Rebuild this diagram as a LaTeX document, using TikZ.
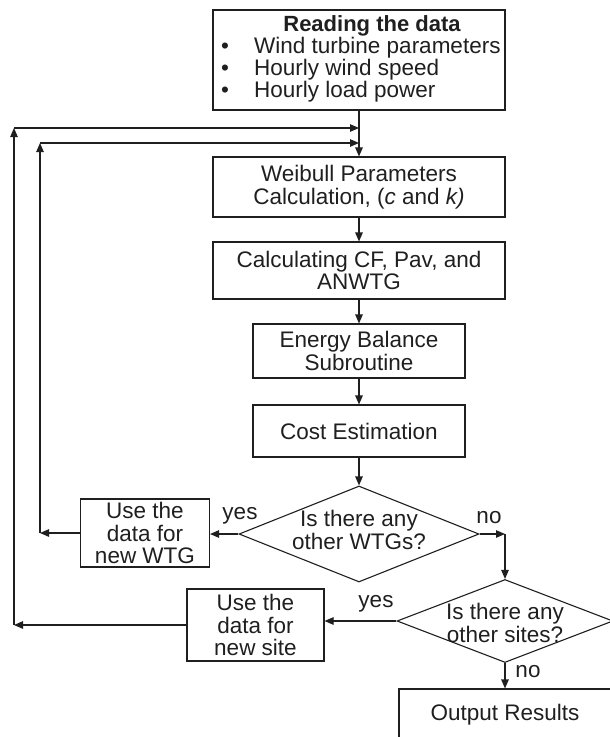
\documentclass[tikz,border=0pt]{standalone}
\usepackage{fontspec}
\setmainfont{Liberation Sans}
\usetikzlibrary{arrows.meta,shapes.geometric}

\begin{document}
\begin{tikzpicture}[x=1pt,y=-1pt,
  every node/.style={font=\fontsize{22.5}{22.5}\selectfont, text=black!88},
  box/.style={draw=black!88, line width=1.1pt, inner sep=0pt, align=center},
  dec/.style={draw=black!88, diamond, line width=1.1pt, inner sep=0pt},
  arr/.style={draw=black!88, line width=1.1pt, -{Triangle[length=9pt,width=7.5pt]}},
  lbl/.style={inner sep=0pt}]
\useasboundingbox (0,0) rectangle (610,737);

% input box with its title and bullet list
\node[box, minimum width=292pt, minimum height=100pt] (read) at (359,60) {};
\node[lbl, font=\fontsize{22}{22.5}\selectfont\bfseries] (title) at (372,26) {Reading the data};
\node[lbl, anchor=west] (item1) at (221,48) {\makebox[33pt][l]{\textbullet}Wind turbine parameters};
\node[lbl, anchor=west] (item2) at (221,70) {\makebox[33pt][l]{\textbullet}Hourly wind speed};
\node[lbl, anchor=west] (item3) at (221,92) {\makebox[33pt][l]{\textbullet}Hourly load power};

% main chain of process boxes
\node[box, minimum width=292pt, minimum height=60pt] (weib) at (359,187)
  {Weibull Parameters\\Calculation, (\textit{c} and \textit{k)}};
\node[box, minimum width=292pt, minimum height=57pt] (calc) at (359,270.5)
  {Calculating CF, Pav, and\\ANWTG};
\node[box, minimum width=212pt, minimum height=54pt] (energy) at (359,351)
  {Energy Balance\\Subroutine};
\node[box, minimum width=212pt, minimum height=52pt] (cost) at (359,431)
  {Cost Estimation};

% decisions
\node[dec, minimum width=240pt, minimum height=96pt,
  label={[align=center, yshift=4pt]center:Is there any\\other WTGs?}] (q1) at (359,534) {};
\node[dec, minimum width=216pt, minimum height=83pt,
  label={[align=center, yshift=-2pt]center:Is there any\\other sites?}] (q2) at (505,621) {};

% side boxes and output
\node[box, minimum width=129pt, minimum height=68pt] (wtg) at (145,533)
  {Use the\\data for\\new WTG};
\node[box, minimum width=137pt, minimum height=72pt] (site) at (255.5,625)
  {Use the\\data for\\new site};
\node[box, minimum width=212pt, minimum height=52pt] (out) at (505,715)
  {Output Results};

% branch labels
\node[lbl] (yes1) at (240,516) {yes};
\node[lbl] (no1) at (489,518) {no};
\node[lbl] (yes2) at (376,604) {yes};
\node[lbl] (no2) at (528,672) {no};

% loop-back corners
\coordinate (a1) at (40,533);
\coordinate (a2) at (40,143);
\coordinate (a3) at (359,143);
\coordinate (b1) at (14,625);
\coordinate (b2) at (14,128);
\coordinate (b3) at (359,128);
\coordinate (k1) at (505,534);

% connectors
\draw[arr] (read) -- (weib);
\draw[arr] (weib) -- (calc);
\draw[arr] (calc) -- (energy);
\draw[arr] (energy) -- (cost);
\draw[arr] (cost) -- (q1);
\draw[arr] (q1.west) -- (q1.west -| wtg.east);
\draw[arr] (q1.east) -- (k1);
\draw[arr] (k1) -- (q2.north);
\draw[arr] (q2.west) -- (q2.west -| site.east);
\draw[arr] (q2.south) -- (out.north);

\draw[arr] (wtg.west) -- (a1);
\draw[arr] (a1) -- (a2);
\draw[arr] (a2) -- (a3);
\draw[arr] (site.west) -- (b1);
\draw[arr] (b1) -- (b2);
\draw[arr] (b2) -- (b3);
\end{tikzpicture}
\end{document}
